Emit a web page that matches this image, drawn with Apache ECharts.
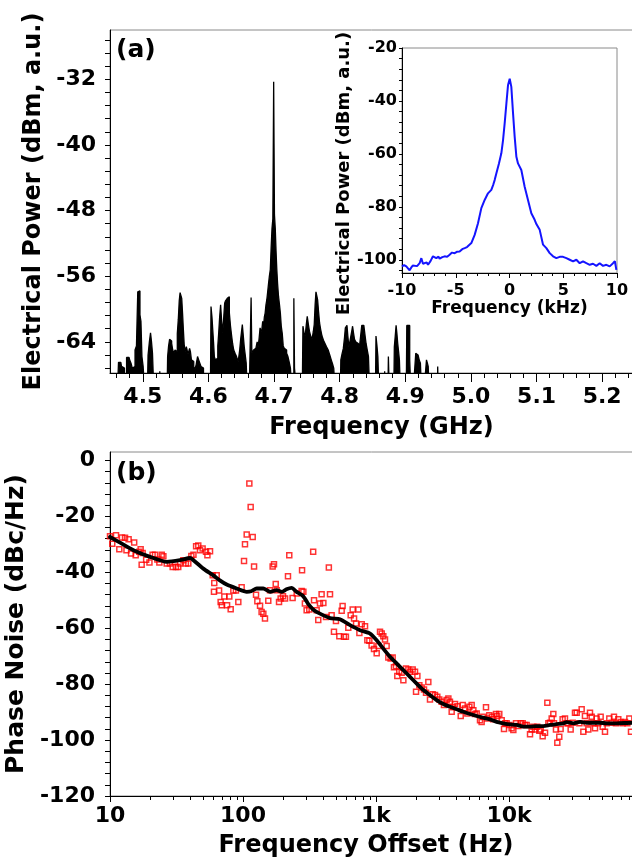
<!DOCTYPE html>
<html><head><meta charset="utf-8">
<script src="https://cdn.jsdelivr.net/npm/echarts@6/dist/echarts.min.js"></script>
<style>html,body{margin:0;padding:0;background:#fff}#c{width:632px;height:865px}</style>
</head><body><div id="c"></div>
<script>
// ---------- Panel (a): RF spectrum ----------
const specFreq = [4.451,4.4614,4.4645,4.4665,4.4685,4.4705,4.4735,4.4770,4.4790,4.4810,4.4830,4.4850,4.4870,4.4893,4.4913,4.4933,4.4948,4.4965,4.4978,4.4995,4.5015,4.5040,4.5070,4.5090,4.5110,4.5125,4.5140,4.5155,4.5180,4.5255,4.5262,4.5275,4.5370,4.5386,4.5400,4.5416,4.5432,4.5447,4.5465,4.5482,4.5500,4.5518,4.5533,4.5548,4.5562,4.5574,4.5587,4.5599,4.5612,4.5624,4.5640,4.5655,4.5670,4.5680,4.5695,4.5706,4.5720,4.5731,4.5750,4.5767,4.5785,4.5800,4.5825,4.5843,4.5860,4.5878,4.5895,4.5914,4.5935,4.6030,4.6048,4.6060,4.6071,4.6084,4.6096,4.6115,4.6135,4.6150,4.6163,4.6178,4.6193,4.6210,4.6226,4.6240,4.6254,4.6267,4.6279,4.6295,4.6310,4.6328,4.6345,4.6360,4.6376,4.6395,4.6416,4.6440,4.6467,4.6485,4.6497,4.6510,4.6523,4.6538,4.6553,4.6568,4.6583,4.6600,4.6645,4.6655,4.6668,4.6680,4.6695,4.6710,4.6735,4.6750,4.6766,4.6780,4.6794,4.6808,4.6820,4.6833,4.6845,4.6858,4.6870,4.6883,4.6895,4.6908,4.6921,4.6936,4.6949,4.6962,4.6975,4.6988,4.7000,4.7012,4.7025,4.7036,4.7048,4.7061,4.7076,4.7090,4.7102,4.7118,4.7132,4.7147,4.7165,4.7183,4.7200,4.7223,4.7240,4.7259,4.7280,4.7298,4.7305,4.7318,4.7333,4.7350,4.7430,4.7450,4.7466,4.7482,4.7498,4.7513,4.7530,4.7548,4.7568,4.7589,4.7605,4.7619,4.7632,4.7645,4.7658,4.7670,4.7686,4.7701,4.7720,4.7741,4.7765,4.7787,4.7812,4.7838,4.7860,4.7883,4.7900,4.7919,4.7940,4.8010,4.8025,4.8045,4.8066,4.8080,4.8092,4.8105,4.8117,4.8132,4.8147,4.8162,4.8178,4.8190,4.8203,4.8218,4.8234,4.8255,4.8274,4.8292,4.8310,4.8328,4.8345,4.8360,4.8376,4.8393,4.8411,4.8430,4.8447,4.8465,4.8545,4.8561,4.8575,4.8589,4.8605,4.8680,4.8690,4.8700,4.8735,4.8749,4.8763,4.8825,4.8840,4.8853,4.8866,4.8878,4.8891,4.8904,4.8916,4.8935,4.9015,4.9030,4.9045,4.9058,4.9076,4.9092,4.9150,4.9168,4.9185,4.9203,4.9221,4.9239,4.9255,4.9315,4.9330,4.9343,4.9355,4.9370,4.9490,4.9497,4.9505,5.25];
const specPower = [-70,-70,-66.5,-66.5,-67.0,-67.2,-70,-65.9,-65.9,-66.2,-66.6,-67.2,-67.0,-65.0,-64.5,-57.9,-57.8,-60.7,-61.5,-65.8,-67.0,-70,-70,-65.6,-64.0,-62.9,-64.0,-65.4,-70,-70,-67.6,-70,-70,-65.8,-64.5,-63.7,-63.9,-64.2,-65.0,-65.4,-65.0,-65.2,-63.0,-61.3,-59.0,-58.0,-58.2,-58.7,-60.5,-62.5,-64.5,-65.2,-64.6,-65.0,-65.5,-65.4,-64.8,-65.2,-66.2,-66.4,-67.0,-67.4,-66.8,-65.8,-66.2,-66.6,-67.0,-67.2,-70,-70,-59.7,-61.0,-62.5,-64.0,-65.8,-66.2,-66.0,-64.5,-62.9,-61.0,-59.5,-61.5,-62.9,-61.0,-59.3,-59.0,-58.9,-58.7,-58.5,-60.5,-62.1,-63.2,-64.2,-65.0,-65.4,-65.8,-66.4,-65.0,-63.7,-62.8,-61.9,-63.2,-64.6,-65.6,-66.6,-70,-70,-58.6,-65.4,-65.4,-65.0,-64.8,-64.6,-64.0,-64.6,-63.5,-62.3,-62.8,-62.5,-61.5,-62.1,-61.0,-60.5,-59.5,-58.9,-58.0,-57.0,-56.0,-55.2,-52.5,-50.2,-49.0,-32.3,-48.5,-50.2,-53.0,-55.2,-57.0,-58.5,-59.5,-60.5,-62.1,-63.0,-64.5,-64.8,-65.0,-65.4,-65.8,-66.5,-67.2,-70,-70,-58.7,-67.2,-67.2,-70,-70,-62.1,-63.0,-63.3,-62.0,-60.9,-61.8,-62.7,-63.3,-63.7,-62.8,-61.9,-59.5,-57.9,-58.4,-58.9,-60.3,-61.7,-62.5,-63.3,-63.8,-64.2,-64.6,-65.0,-65.6,-66.2,-66.7,-67.2,-70,-70,-66.2,-65.5,-64.8,-63.5,-62.3,-62.2,-62.0,-63.3,-64.6,-64.0,-63.3,-62.7,-62.1,-62.9,-63.7,-64.0,-64.2,-64.4,-64.6,-63.3,-62.0,-62.0,-62.0,-63.1,-64.2,-65.0,-65.8,-70,-70,-63.3,-64.5,-65.8,-70,-70,-67.6,-70,-70,-65.8,-70,-70,-64.6,-63.3,-62.0,-63.0,-64.2,-65.2,-66.2,-70,-70,-62.0,-62.0,-62.0,-66.2,-70,-70,-65.4,-65.6,-65.8,-66.2,-66.6,-70,-70,-66.2,-66.6,-67.0,-70,-70,-67.0,-70,-70];
const specXLabels = [4.5,4.6,4.7,4.8,4.9,5.0,5.1,5.2];
const specYLabels = [-64,-56,-48,-40,-32];

// ---------- Inset: beat note ----------
const insetFreq = [-10,-9.8,-9.6,-9.45,-9.29,-9.15,-9.0,-8.82,-8.6,-8.36,-8.2,-8.05,-7.89,-7.7,-7.58,-7.35,-7.12,-6.95,-6.81,-6.6,-6.5,-6.25,-6.03,-5.8,-5.57,-5.35,-5.10,-4.9,-4.64,-4.4,-4.17,-3.95,-3.86,-3.55,-3.24,-2.93,-2.62,-2.31,-2.0,-1.69,-1.5,-1.38,-1.22,-0.98,-0.76,-0.60,-0.45,-0.29,-0.14,0.02,0.17,0.33,0.48,0.64,0.79,0.95,1.10,1.41,1.72,2.03,2.34,2.5,2.65,2.81,3.12,3.43,3.74,4.05,4.36,4.67,4.98,5.29,5.60,5.91,6.22,6.53,6.84,7.15,7.46,7.77,8.08,8.39,8.70,9.01,9.32,9.63,9.8,9.94];
const insetPower = [-102.5,-102.0,-102.5,-103.2,-104.0,-103.0,-102.2,-101.9,-102.4,-101.3,-99.4,-101.5,-101.9,-101.0,-101.9,-100.5,-98.7,-99.2,-99.4,-98.8,-99.6,-99.0,-98.7,-98.9,-98.1,-97.3,-97.5,-97.0,-96.9,-96.0,-95.6,-95.2,-95.6,-93.7,-90.6,-86.2,-80.5,-77.4,-74.9,-73.6,-71.5,-69.9,-67.3,-63.6,-59.8,-54.8,-48.5,-41.0,-34.1,-31.6,-34.7,-44.7,-53.5,-61.1,-63.6,-63.0,-66.1,-72.4,-77.4,-82.4,-84.9,-86.5,-86.0,-88.7,-94.3,-95.6,-97.5,-98.7,-99.4,-98.9,-98.9,-99.4,-100.0,-100.6,-100.0,-101.3,-100.6,-101.3,-101.9,-101.5,-102.3,-101.3,-102.3,-101.9,-102.5,-101.3,-100.5,-103.8];
const insetXLabels = [-10,-5,0,5,10];
const insetYLabels = [-100,-80,-60,-40,-20];

// ---------- Panel (b): phase noise ----------
const pnScatterHz = [10.0,10.4,11.1,11.75,12.3,12.97,13.3,13.8,14.4,15.2,15.6,16.6,17.0,17.3,17.6,18.7,19.8,20.9,21.8,22.7,23.5,24.5,25.2,26.7,28.2,29.6,31.3,32.6,33.6,35.6,37.2,38.8,40.9,42.4,44.4,46.1,47.5,49.7,52.7,54.0,56.5,59.2,60.8,63.4,60.5,66.1,67.9,69.2,72.4,75.9,78.9,80.8,84.6,88.5,92.2,97.7,101.8,103.5,106.6,111.6,114.2,118.3,121.1,125.3,128.2,134.3,138.0,142.2,146.3,154.9,159.6,167.1,171.0,176.2,179.1,186.6,191.9,199.9,207.0,217.9,222.8,236.0,253.4,278.0,284.4,
276,292,301,315,337,342,358,368,379,390,402,421,442,451,464,483,500,530,552,561,574,594,619,645,668,684,708,737,750,781,827,861,891,927,966,1012,1042,1072,1104,1135,1169,1202,1238,1288,1334,1365,1413,1446,1496,1559,1606,1682,1750,1802,1887,1965,2000,2047,2118,2205,2296,2377,2474,2546,2666,2778,2890,2992,3116,3243,3397,3500,3597,3707,3813,3929,4093,4335,4488,4670,4864,5034,5241,5396,5546,5715,6053,6227,6412,6714,6871,7112,7413,7621,7980,8166,8453,8811,9170,9334,9603,10060,10470,10780,11290,11750,12240,12670,13190,13580,14390,14800,15240,15680,16320,16900,17300,17910,18660,19420,19770,20330,20940,21540,21790,22550,23080,23880,24440,25300,26360,27160,27930,29080,30130,31340,32290,33820,35180,36220,37240,38370,39480,40640,41850,43050,44340,45610,46950,48880,50610,52690,54210,56790,59120,61550,63710,66350,69140,71610,74510,77580,80330,82650];
const pnScatterDb = [-27.1,-29.8,-26.8,-31.8,-27.6,-27.7,-32.1,-28.2,-33.3,-29.4,-33.9,-32.7,-31.8,-37.3,-33.1,-35.5,-36.5,-33.7,-33.7,-35.4,-36.5,-33.7,-34.3,-36.9,-36.9,-38.1,-38.1,-38.1,-36.9,-35.7,-36.9,-36.9,-34.2,-33.7,-30.7,-30.4,-32.1,-31.5,-32.7,-33.9,-32.5,-41.1,-43.8,-41.1,-47.0,-46.5,-50.6,-51.8,-48.7,-51.8,-48.7,-53.2,-46.5,-46.5,-50.6,-45.4,-36.0,-30.0,-26.5,-8.3,-16.7,-27.4,-37.9,-48.0,-50.4,-52.0,-54.2,-54.8,-56.5,-50.2,-46.4,-37.9,-37.1,-44.2,-46.4,-50.6,-49.4,-48.6,-49.4,-41.4,-33.9,-49.2,-47.6,-39.3,-47.0,
-46.7,-51.2,-53.6,-53.3,-32.7,-50.0,-53.6,-57.1,-51.2,-47.9,-51.0,-56.0,-38.3,-47.9,-55.4,-61.3,-57.4,-62.9,-53.8,-52.1,-63.1,-63.1,-59.8,-55.4,-53.3,-56.5,-58.3,-53.3,-61.7,-58.6,-59.3,-64.3,-64.5,-66.2,-67.4,-69.0,-66.4,-61.3,-61.9,-62.9,-64.0,-66.4,-70.5,-70.8,-70.5,-74.0,-73.6,-77.1,-75.6,-75.9,-78.6,-74.4,-74.8,-75.6,-74.8,-75.6,-82.7,-77.1,-80.4,-81.2,-81.9,-83.1,-79.2,-85.5,-83.6,-83.9,-84.5,-85.5,-86.3,-87.5,-85.7,-85.1,-86.3,-89.9,-88.3,-87.1,-87.9,-91.4,-87.5,-88.7,-90.5,-88.1,-87.5,-89.3,-90.7,-90.5,-92.9,-93.5,-91.7,-88.3,-92.3,-91.1,-91.7,-92.6,-90.7,-91.4,-90.7,-92.9,-96.0,-94.0,-94.0,-94.6,-95.8,-96.4,-94.0,-95.0,-94.0,-94.0,-94.6,-94.6,-97.9,-96.2,-95.2,-96.2,-95.2,-96.7,-96.2,-98.6,-97.4,-86.7,-94.0,-93.8,-92.3,-90.7,-94.0,-96.2,-101.0,-98.8,-96.0,-92.6,-92.3,-94.0,-94.0,-96.2,-93.8,-90.2,-90.2,-94.0,-89.0,-97.0,-91.4,-94.0,-96.2,-90.2,-91.7,-94.0,-95.8,-92.3,-94.0,-91.7,-95.2,-97.0,-94.0,-92.3,-93.8,-91.7,-94.0,-92.6,-93.5,-94.0,-93.5,-94.0,-92.3,-97.0];
const pnFitHz = [10,12,15,20,26.7,33.6,40,42.4,50.3,59.8,67,75.4,89.6,106.6,115,126.8,142,160,179,196,212,232,253,284,309,340,379,451,536,638,759,902,1012,1135,1274,1429,1606,1802,2023,2270,2546,2858,3207,3597,4045,4539,5093,5715,6412,7194,8072,9057,10180,11430,12820,14390,16140,18110,20330,22810,25660,27160,30480,34200,38370,43050,48310,54210,64570,84140,100000];
const pnFitDb = [-27.4,-29.5,-32.1,-34.5,-36.3,-35.7,-34.9,-35.7,-38.7,-41.1,-42.9,-44.4,-45.8,-47.0,-46.8,-45.8,-45.8,-47.0,-46.4,-47.0,-46.1,-45.6,-47.0,-48.6,-51.3,-53.5,-54.8,-56.4,-56.8,-58.9,-60.7,-61.9,-64.3,-67.3,-70.2,-72.6,-75.0,-77.4,-79.8,-82.1,-83.9,-85.7,-87.1,-88.1,-89.0,-89.9,-90.7,-91.4,-92.0,-92.6,-93.5,-94.0,-94.4,-94.6,-95.2,-95.2,-95.0,-95.0,-94.6,-94.3,-94.0,-93.6,-94.0,-93.5,-93.8,-93.8,-93.8,-94.0,-94.0,-93.8,-93.8];
const pnYLabels = [-120,-100,-80,-60,-40,-20,0];
const pnXLabels = [10,100,1000,10000];
const pnXLabelText = {10:'10',100:'100',1000:'1k',10000:'10k',100000:'100k'};

// ---------- helpers ----------
function range(a, b, step) { const out = []; const n = Math.round((b - a) / step); for (let i = 0; i <= n; i++) out.push(+(a + i * step).toFixed(4)); return out; }
const zip = (a, b) => a.map((v, i) => [v, b[i]]);
const specXMinor = range(4.46, 5.24, 0.02);
const specYTicks = range(-67.2, -27.2, 1.6);
const insetXMinor = range(-10, 10, 1);
const insetYTicks = range(-104, -20, 4);
const pnYTicks = range(-120, 0, 4);
const pnXMinor = [];
[10, 100, 1000, 10000].forEach(d => { for (let k = 2; k <= 9; k++) pnXMinor.push(k * d); });

const FONT = 'DejaVu Sans';
const lbl = (size) => ({ fontFamily: FONT, fontWeight: 'bold', fontSize: size, color: '#000' });
const line = { show: true, onZero: false, lineStyle: { color: '#000', width: 1 } };
const noLine = { show: false, onZero: false };
const tick = (len, vals) => ({ show: true, length: len, inside: false, customValues: vals, lineStyle: { color: '#000', width: 1 } });

const G0 = { left: 110, top: 30, width: 525, height: 343 };
const G1 = { left: 402, top: 48, width: 215, height: 225 };
const G2 = { left: 110, top: 452, width: 532, height: 344 };
const gridBase = { show: true, borderColor: '#8a8a8a', borderWidth: 1, backgroundColor: 'transparent', containLabel: false, outerBoundsMode: 'none' };

const chart = echarts.init(document.getElementById('c'), null, { renderer: 'canvas' });
chart.setOption({
  animation: false,
  backgroundColor: '#fff',
  textStyle: { fontFamily: FONT },
  grid: [Object.assign({}, gridBase, G0), Object.assign({}, gridBase, G1), Object.assign({}, gridBase, G2)],
  xAxis: [
    { gridIndex: 0, type: 'value', position: 'bottom', min: 4.45, max: 5.25, axisLine: line,
      axisTick: tick(9, specXLabels), splitLine: { show: false },
      axisLabel: Object.assign(lbl(22), { customValues: specXLabels, margin: 13, formatter: v => v.toFixed(1) }),
      name: 'Frequency (GHz)', nameLocation: 'middle', nameGap: 43, nameTextStyle: Object.assign(lbl(24), { padding: [0, 0, 0, 18] }) },
    { gridIndex: 0, type: 'value', position: 'bottom', min: 4.45, max: 5.25, axisLine: noLine,
      axisTick: tick(5, specXMinor), axisLabel: { show: false }, splitLine: { show: false } },
    { gridIndex: 1, type: 'value', position: 'bottom', min: -10, max: 10, axisLine: line,
      axisTick: tick(5, insetXLabels), splitLine: { show: false },
      axisLabel: Object.assign(lbl(16), { customValues: insetXLabels, margin: 10 }),
      name: 'Frequency (kHz)', nameLocation: 'middle', nameGap: 27, nameTextStyle: lbl(17) },
    { gridIndex: 1, type: 'value', position: 'bottom', min: -10, max: 10, axisLine: noLine,
      axisTick: tick(3, insetXMinor), axisLabel: { show: false }, splitLine: { show: false } },
    { gridIndex: 2, type: 'log', logBase: 10, position: 'bottom', min: 10, max: 100000, axisLine: line,
      axisTick: tick(6, pnXLabels), splitLine: { show: false }, minorTick: { show: false },
      axisLabel: Object.assign(lbl(22), { customValues: pnXLabels, margin: 9, formatter: v => pnXLabelText[Math.round(v)] || '' }),
      name: 'Frequency Offset (Hz)', nameLocation: 'middle', nameGap: 38, nameTextStyle: Object.assign(lbl(24), { padding: [0, 20, 0, 0] }) },
    { gridIndex: 2, type: 'log', logBase: 10, position: 'bottom', min: 10, max: 100000, axisLine: noLine,
      axisTick: tick(4, pnXMinor), axisLabel: { show: false }, splitLine: { show: false } }
  ],
  yAxis: [
    { gridIndex: 0, type: 'value', position: 'left', min: -67.8, max: -26, axisLine: line,
      axisTick: tick(5, specYTicks), splitLine: { show: false },
      axisLabel: Object.assign(lbl(22), { customValues: specYLabels, margin: 14 }),
      name: 'Electrical Power (dBm, a.u.)', nameLocation: 'middle', nameGap: 50, nameTextStyle: lbl(24) },
    { gridIndex: 1, type: 'value', position: 'left', min: -105, max: -20, axisLine: line,
      axisTick: tick(3, insetYTicks), splitLine: { show: false },
      axisLabel: Object.assign(lbl(16), { customValues: insetYLabels, margin: 5 }),
      name: 'Electrical Power (dBm, a.u.)', nameLocation: 'middle', nameGap: 36, nameTextStyle: Object.assign(lbl(18), { padding: [0, 26, 0, 0] }) },
    { gridIndex: 2, type: 'value', position: 'left', min: -120, max: 3, axisLine: line,
      axisTick: tick(5, pnYTicks), splitLine: { show: false },
      axisLabel: Object.assign(lbl(22), { customValues: pnYLabels, margin: 15 }),
      name: 'Phase Noise (dBc/Hz)', nameLocation: 'middle', nameGap: 66, nameTextStyle: lbl(25) }
  ],
  graphic: [
    { type: 'text', left: 116, top: 38, style: { text: '(a)', font: 'bold 25px "DejaVu Sans"', fill: '#000' } },
    { type: 'text', left: 116, top: 461, style: { text: '(b)', font: 'bold 25px "DejaVu Sans"', fill: '#000' } }
  ],
  series: [
    { type: 'line', xAxisIndex: 0, yAxisIndex: 0, data: zip(specFreq, specPower), step: 'middle', symbol: 'none', clip: true,
      lineStyle: { color: '#000', width: 1.3 }, areaStyle: { color: '#000', opacity: 1, origin: 'start' } },
    { type: 'line', xAxisIndex: 2, yAxisIndex: 1, data: zip(insetFreq, insetPower), symbol: 'none', clip: true,
      lineStyle: { color: '#1414ff', width: 2 } },
    { type: 'scatter', xAxisIndex: 4, yAxisIndex: 2, data: zip(pnScatterHz, pnScatterDb), symbol: 'rect', symbolSize: 5, clip: true,
      itemStyle: { color: 'rgba(255,255,255,0)', borderColor: '#ff0000', borderWidth: 1.5 }, z: 2 },
    { type: 'line', xAxisIndex: 4, yAxisIndex: 2, data: zip(pnFitHz, pnFitDb), symbol: 'none', smooth: 0.2, clip: true,
      lineStyle: { color: '#000', width: 3.8, cap: 'round', join: 'round' }, z: 3 }
  ]
});
</script></body></html>
